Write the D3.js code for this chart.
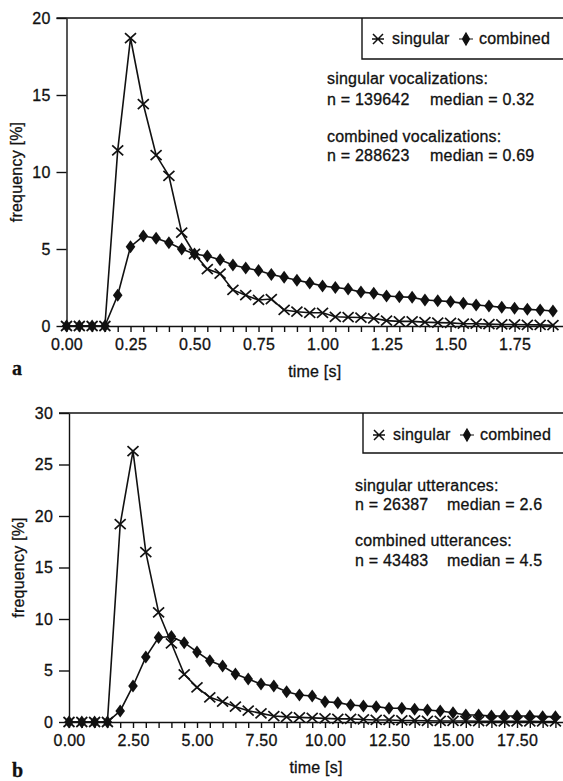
<!DOCTYPE html>
<html><head><meta charset="utf-8">
<script src="https://cdn.jsdelivr.net/npm/d3@7"></script>
<style>
html,body{margin:0;padding:0;background:#fff;}
svg{display:block;}
text{font-family:"Liberation Sans",Arial,Helvetica,sans-serif;fill:#111;stroke:#111;stroke-width:0.3px;letter-spacing:0.2px;}
</style></head>
<body>
<svg id="chart" width="563" height="781"></svg>
<script>
// ---------- DATA ----------
const timesA = [0,0.05,0.10,0.15,0.20,0.25,0.30,0.35,0.40,0.45,0.50,0.55,0.60,0.65,0.70,0.75,0.80,0.85,0.90,0.95,
  1.00,1.05,1.10,1.15,1.20,1.25,1.30,1.35,1.40,1.45,1.50,1.55,1.60,1.65,1.70,1.75,1.80,1.85,1.90];
const singularA = [0,0,0,0,11.4,18.7,14.4,11.1,9.75,6.06,4.68,3.7,3.4,2.34,2.0,1.69,1.75,1.04,0.93,0.86,
  0.86,0.6,0.57,0.55,0.5,0.35,0.3,0.3,0.25,0.22,0.2,0.15,0.15,0.12,0.1,0.1,0.08,0.07,0.05];
const combinedA = [0,0,0,0,2.0,5.15,5.84,5.7,5.4,5.0,4.68,4.55,4.3,3.96,3.77,3.6,3.35,3.17,2.97,2.8,
  2.6,2.5,2.4,2.2,2.13,1.95,1.9,1.86,1.69,1.64,1.58,1.47,1.36,1.3,1.21,1.15,1.08,1.04,0.97];

const timesB = [0,0.5,1.0,1.5,2.0,2.5,3.0,3.5,4.0,4.5,5.0,5.5,6.0,6.5,7.0,7.5,8.0,8.5,9.0,9.5,
  10.0,10.5,11.0,11.5,12.0,12.5,13.0,13.5,14.0,14.5,15.0,15.5,16.0,16.5,17.0,17.5,18.0,18.5,19.0];
const singularB = [0,0,0,0,19.2,26.3,16.5,10.65,7.64,4.63,3.37,2.4,1.97,1.49,1.1,0.84,0.58,0.5,0.45,0.4,
  0.35,0.3,0.3,0.25,0.2,0.2,0.15,0.15,0.12,0.1,0.1,0.1,0.08,0.08,0.07,0.06,0.06,0.05,0.05];
const combinedB = [0,0,0,0,1.07,3.5,6.3,8.2,8.3,7.7,6.8,5.95,5.44,4.66,4.17,3.69,3.5,2.94,2.62,2.52,
  1.97,1.88,1.65,1.55,1.49,1.33,1.33,1.23,1.17,1.07,0.9,0.68,0.68,0.58,0.58,0.58,0.58,0.52,0.52];

const xTickLabelsA = ["0.00","0.25","0.50","0.75","1.00","1.25","1.50","1.75"];
const xTickLabelsB = ["0.00","2.50","5.00","7.50","10.00","12.50","15.00","17.50"];
const yTicksA = [0,5,10,15,20];
const yTicksB = [0,5,10,15,20,25,30];
const legendLabels = ["singular","combined"];
const notesA = [["singular vocalizations:"],["n = 139642","median = 0.32"],["combined vocalizations:"],["n = 288623","median = 0.69"]];
const notesB = [["singular utterances:"],["n = 26387","median = 2.6"],["combined utterances:"],["n = 43483","median = 4.5"]];

// ---------- DRAW ----------
const svg = d3.select("#chart");
svg.append("rect").attr("width",563).attr("height",781).attr("fill","#fff");
const INK = "#111";

function drawPanel(o){
  const g = svg.append("g");
  const x = d3.scaleLinear().domain(o.xDomain).range([o.left, o.right]);
  const y = d3.scaleLinear().domain(o.yDomain).range([o.bottom, o.top]);

  // frame: top line
  g.append("line").attr("x1", o.left-10).attr("x2", o.right+5)
    .attr("y1", o.top).attr("y2", o.top).attr("stroke", INK).attr("stroke-width",1.4);

  // y axis
  const ya = d3.axisLeft(y).tickValues(o.yTicks).tickSize(10).tickPadding(6).tickSizeOuter(0).tickFormat(d3.format("d"));
  const yg = g.append("g").attr("transform",`translate(${o.left},0)`).call(ya);
  yg.select(".domain").attr("stroke",INK).attr("stroke-width",1.4);
  yg.selectAll(".tick line").attr("stroke",INK).attr("stroke-width",1.4);
  yg.selectAll(".tick text").attr("font-size",16).attr("fill",INK)
    .style("font-family",'"Liberation Sans",Arial,sans-serif');

  // x axis (minor ticks at each sample time, labels at major)
  const labelSet = new Map(o.xLabelVals.map((v,i)=>[v.toFixed(3), o.xLabels[i]]));
  const xa = d3.axisBottom(x).tickValues(o.times).tickSize(6).tickPadding(7).tickSizeOuter(0)
    .tickFormat(d => labelSet.get(d.toFixed(3)) || "");
  const xg = g.append("g").attr("transform",`translate(0,${o.bottom})`).call(xa);
  xg.select(".domain").attr("stroke",INK).attr("stroke-width",1.4);
  xg.selectAll(".tick line").attr("stroke",INK).attr("stroke-width",1.4);
  xg.selectAll(".tick text").attr("font-size",16).attr("fill",INK)
    .style("font-family",'"Liberation Sans",Arial,sans-serif');

  // axis titles
  g.append("text").attr("transform",`translate(${o.left-45},${(o.top+o.bottom)/2}) rotate(-90)`)
    .attr("text-anchor","middle").attr("font-size",16).text("frequency [%]");
  g.append("text").attr("x",(o.left+563)/2).attr("y",o.bottom+51)
    .attr("text-anchor","middle").attr("font-size",16).text("time [s]");

  // panel letter
  g.append("text").attr("x",12).attr("y",o.bottom+o.letterDy)
    .style("font-family",'"Liberation Serif","Times New Roman",serif').attr("font-weight","bold")
    .attr("font-size",20).text(o.letter);

  // lines
  const line = d3.line().x((d,i)=>x(o.times[i])).y(d=>y(d));
  [o.combined, o.singular].forEach(s=>{
    g.append("path").datum(s).attr("d",line).attr("fill","none")
      .attr("stroke",INK).attr("stroke-width",1.6);
  });

  // combined markers: filled tall diamonds
  g.selectAll(null).data(o.combined).enter().append("path")
    .attr("d","M0,-6.5L4.8,0L0,6.5L-4.8,0Z")
    .attr("transform",(d,i)=>`translate(${x(o.times[i])},${y(d)})`)
    .attr("fill",INK);

  // singular markers: crosses
  g.selectAll(null).data(o.singular).enter().append("path")
    .attr("d","M-5.5,-5L5.5,5M-5.5,5L5.5,-5")
    .attr("transform",(d,i)=>`translate(${x(o.times[i])},${y(d)})`)
    .attr("stroke",INK).attr("stroke-width",1.7).attr("fill","none");

  // legend box
  g.append("path").attr("d",`M${o.legX},${o.top}V${o.legBottom}H${o.right+5}`)
    .attr("fill","none").attr("stroke",INK).attr("stroke-width",1.4);
  const ly = o.legBaseline - 5;
  g.append("path").attr("d",`M${o.legX+11},${ly-5}L${o.legX+21},${ly+5}M${o.legX+11},${ly+5}L${o.legX+21},${ly-5}M${o.legX+10},${ly}H${o.legX+22}`)
    .attr("stroke",INK).attr("stroke-width",1.5).attr("fill","none");
  g.append("text").attr("x",o.legX+30).attr("y",o.legBaseline).attr("font-size",16).text(legendLabels[0]);
  const dx = o.legX+104;
  g.append("path").attr("d",`M${dx},${ly-6}L${dx+3.5},${ly}L${dx},${ly+6}L${dx-3.5},${ly}Z M${dx-7},${ly}H${dx+7}`)
    .attr("fill",INK).attr("stroke",INK).attr("stroke-width",1.2);
  g.append("text").attr("x",o.legX+117).attr("y",o.legBaseline).attr("font-size",16).text(legendLabels[1]);

  // notes
  o.notes.forEach((ln,i)=>{
    g.append("text").attr("x",o.noteX).attr("y",o.noteY[i]).attr("font-size",16).text(ln[0]);
    if(ln[1]) g.append("text").attr("x",o.noteX2).attr("y",o.noteY[i]).attr("font-size",16).text(ln[1]);
  });
}

drawPanel({
  xDomain:[0,1.94], yDomain:[0,20], left:66.5, right:563.2, top:18, bottom:326,
  times:timesA, singular:singularA, combined:combinedA,
  yTicks:yTicksA, xLabels:xTickLabelsA, xLabelVals:[0,0.25,0.5,0.75,1.0,1.25,1.5,1.75],
  letter:"a", letterDy:49,
  legX:362, legBottom:59, legBaseline:44,
  notes:notesA, noteX:327, noteX2:430, noteY:[84,105,142,161]
});
drawPanel({
  xDomain:[0,19.3], yDomain:[0,30], left:69, right:563.1, top:413, bottom:722,
  times:timesB, singular:singularB, combined:combinedB,
  yTicks:yTicksB, xLabels:xTickLabelsB, xLabelVals:[0,2.5,5,7.5,10,12.5,15,17.5],
  letter:"b", letterDy:55,
  legX:363, legBottom:453, legBaseline:440,
  notes:notesB, noteX:355, noteX2:447, noteY:[491,510,546,566]
});
</script>
</body></html>
